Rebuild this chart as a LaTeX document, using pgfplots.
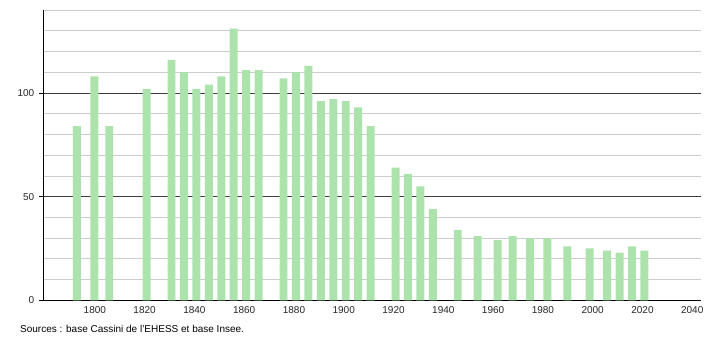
\documentclass[border=0pt]{standalone}
\usepackage{fontspec}
\setmainfont{Liberation Sans}
\usepackage{pgfplots}
\pgfplotsset{compat=1.18}
\definecolor{bargreen}{RGB}{172,226,172}
\definecolor{majgrid}{RGB}{60,60,60}
\definecolor{mingrid}{RGB}{205,205,205}
\begin{document}
\fontsize{10bp}{12bp}\selectfont
\begin{tikzpicture}
\useasboundingbox (-43.3bp,-39.7bp) rectangle (666.7bp,300.3bp);
\begin{axis}[
  at={(0,0)}, anchor=south west,
  scale only axis,
  width=657.4bp, height=290.3bp,
  xmin=1779.5, xmax=2043.6,
  ymin=0, ymax=140,
  axis x line*=bottom, axis y line*=left,
  axis line style={black, line width=0.8pt},
  xtick={1800,1820,...,2040},
  xtick style={draw=none},
  ytick={0,50,100},
  minor ytick={10,20,30,40,60,70,80,90,110,120,130,140},
  ymajorgrids, yminorgrids,
  major grid style={majgrid, line width=0.7pt},
  minor grid style={mingrid, line width=0.7pt},
  tick align=outside,
  major tick length=4bp,
  minor tick length=0pt,
  ytick style={black, line width=0.7pt},
  /pgf/number format/assume math mode=true,
  /pgf/number format/1000 sep={},
  ticklabel style={font=\fontsize{10bp}{12bp}\selectfont, text=black!85},
  yticklabel style={xshift=-1.5bp},
  xticklabel style={yshift=1.5bp, xshift=0.5bp},
  clip=false,
]
\addplot[ybar, bar width=3.2, bar shift=0pt, fill=bargreen, draw=none] coordinates {
(1793,84) (1800,108) (1806,84) (1821,102) (1831,116) (1836,110) (1841,102)
(1846,104) (1851,108) (1856,131) (1861,111) (1866,111) (1876,107) (1881,110)
(1886,113) (1891,96) (1896,97) (1901,96) (1906,93) (1911,84) (1921,64)
(1926,61) (1931,55) (1936,44) (1946,34) (1954,31) (1962,29) (1968,31)
(1975,30) (1982,30) (1990,26) (1999,25) (2006,24) (2011,23) (2016,26) (2021,24)
};
\end{axis}
\node[anchor=west, inner sep=0pt, font=\fontsize{10bp}{12bp}\selectfont] at (-23.3bp,-28.7bp) {Sources : base Cassini de l'EHESS et base Insee.};
\end{tikzpicture}
\end{document}
